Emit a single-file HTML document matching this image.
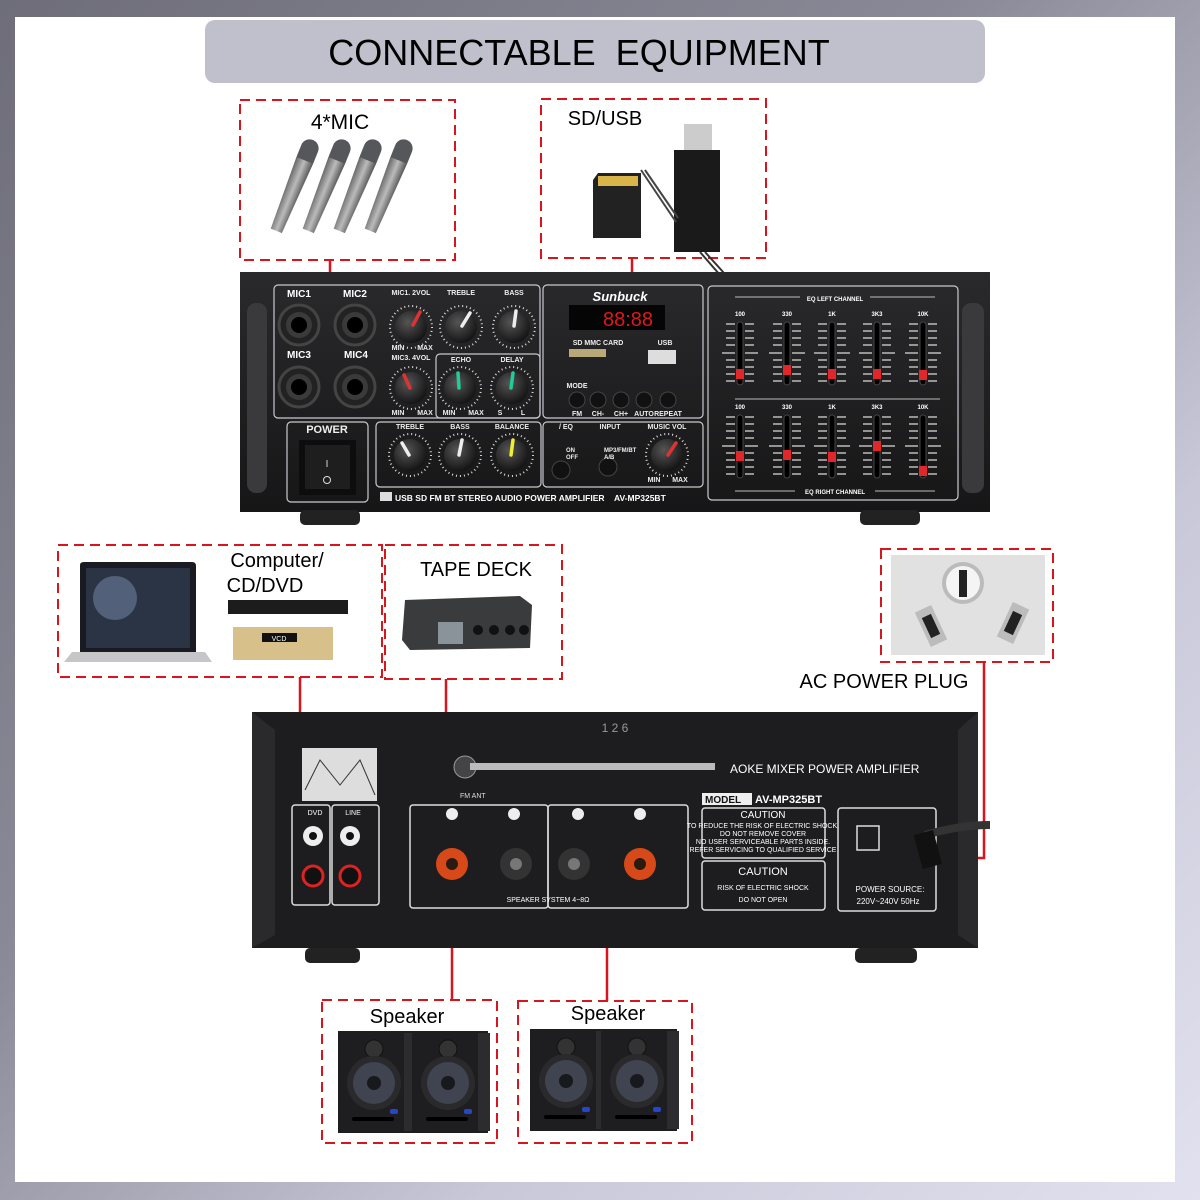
<!DOCTYPE html>
<html><head><meta charset="utf-8"><style>
html,body{margin:0;padding:0;width:1200px;height:1200px;overflow:hidden}
body{background:linear-gradient(135deg,#6e6d79 0%,#8a8997 40%,#c9c8d8 70%,#e2e1ef 100%)}
svg{position:absolute;left:0;top:0}
text{font-family:"Liberation Sans",sans-serif}
</style></head><body>
<svg width="1200" height="1200" viewBox="0 0 1200 1200" xmlns="http://www.w3.org/2000/svg">
<defs>
<radialGradient id="kg" cx="40%" cy="35%" r="70%"><stop offset="0" stop-color="#555"/><stop offset="1" stop-color="#111"/></radialGradient>
<linearGradient id="panel" x1="0" y1="0" x2="0" y2="1"><stop offset="0" stop-color="#2a2a2c"/><stop offset="1" stop-color="#161617"/></linearGradient>
<linearGradient id="micg" x1="0" y1="0" x2="1" y2="0"><stop offset="0" stop-color="#666"/><stop offset=".5" stop-color="#bbb"/><stop offset="1" stop-color="#555"/></linearGradient>
<g id="knob"><circle r="21" fill="none" stroke="#ddd" stroke-width="2" stroke-dasharray="1 3"/><circle r="16" fill="url(#kg)"/></g>
<g id="jack"><circle r="20" fill="#222" stroke="#444" stroke-width="3"/><circle r="13" fill="#3a3a3a"/><circle r="8" fill="#000"/></g>
<g id="slider"><rect x="-3" y="0" width="6" height="63" rx="3" fill="#000" stroke="#444"/>
<path d="M-14 2h9M5 2h9M-14 9h9M5 9h9M-14 16h9M5 16h9M-14 23h9M5 23h9M-18 31h13M5 31h13M-14 38h9M5 38h9M-14 45h9M5 45h9M-14 52h9M5 52h9M-14 59h9M5 59h9" stroke="#bbb" stroke-width="1.5"/></g>
<g id="spk"><rect x="0" y="0" width="76" height="102" fill="#1e1e20"/><rect x="66" y="2" width="12" height="98" fill="#2c2c2e"/>
<circle cx="36" cy="18" r="9" fill="#333" stroke="#111"/><circle cx="36" cy="52" r="27" fill="#2a2a2c"/><circle cx="36" cy="52" r="21" fill="#3f4450"/><circle cx="36" cy="52" r="7" fill="#18191c"/>
<rect x="14" y="86" width="42" height="4" rx="2" fill="#000"/><rect x="52" y="78" width="8" height="5" rx="2" fill="#2446c8"/></g>
<g id="mic"><rect x="-9" y="0" width="18" height="30" rx="9" fill="#55575b"/><path d="M-9 22 L-6 98 L6 98 L9 22Z" fill="url(#micg)"/></g>
</defs>
<!-- white area -->
<rect x="15" y="17" width="1160" height="1165" fill="#fff"/>
<!-- title -->
<rect x="205" y="20" width="780" height="63" rx="10" fill="#c0bfcc"/>
<text x="579" y="65" font-size="36" text-anchor="middle" fill="#000">CONNECTABLE&#160;&#160;EQUIPMENT</text>

<!-- connector lines -->
<g stroke="#d8141c" stroke-width="2.5" fill="none">
<path d="M330 260 V330"/><path d="M632 258 V352"/>
<path d="M300 677 V835"/><path d="M446 679 V825 H370"/>
<path d="M984 662 V858 H935"/>
<path d="M452 880 V1000"/><path d="M607 868 V1001"/>
</g>

<!-- dashed boxes -->
<g stroke="#d8141c" stroke-width="2" fill="none" stroke-dasharray="10 6">
<rect x="240" y="100" width="215" height="160"/>
<rect x="541" y="99" width="225" height="159"/>
<rect x="58" y="545" width="324" height="132"/>
<rect x="385" y="545" width="177" height="134"/>
<rect x="881" y="549" width="172" height="113"/>
<rect x="322" y="1000" width="175" height="143"/>
<rect x="518" y="1001" width="174" height="142"/>
</g>

<!-- mics -->
<text x="340" y="129" font-size="21" text-anchor="middle">4*MIC</text>
<use href="#mic" transform="translate(313,140) rotate(22)"/>
<use href="#mic" transform="translate(345,140) rotate(22)"/>
<use href="#mic" transform="translate(376,140) rotate(22)"/>
<use href="#mic" transform="translate(407,140) rotate(22)"/>

<!-- SD/USB -->
<text x="605" y="125" font-size="20" text-anchor="middle">SD/USB</text>
<path d="M598 173 H641 V238 H593 V180Z" fill="#222"/>
<rect x="598" y="176" width="40" height="10" fill="#d9b44a"/>
<rect x="684" y="124" width="28" height="27" fill="#ccc"/>
<rect x="674" y="150" width="46" height="102" fill="#1a1a1a"/>
<path d="M641 170 L676 222 M645 170 L678 218" stroke="#444" stroke-width="2"/>
<path d="M700 252 L720 275 M705 252 L724 273" stroke="#333" stroke-width="2"/>

<!-- FRONT AMP -->
<rect x="240" y="272" width="750" height="240" fill="url(#panel)"/>
<rect x="300" y="510" width="60" height="15" rx="5" fill="#222"/><rect x="860" y="510" width="60" height="15" rx="5" fill="#222"/>
<rect x="247" y="303" width="20" height="190" rx="9" fill="#3a3a3c"/>
<rect x="962" y="303" width="22" height="190" rx="9" fill="#3a3a3c"/>
<g fill="none" stroke="#c8c8d0" stroke-width="1.2">
<rect x="274" y="285" width="266" height="133" rx="4"/>
<rect x="436" y="354" width="104" height="64" rx="4"/>
<rect x="543" y="285" width="160" height="133" rx="4"/>
<rect x="287" y="422" width="81" height="80" rx="4"/>
<rect x="376" y="422" width="165" height="65" rx="4"/>
<rect x="543" y="422" width="160" height="65" rx="4"/>
<rect x="708" y="286" width="250" height="214" rx="4"/>
</g>
<g font-size="10" font-weight="bold" fill="#fff">
<text x="287" y="297">MIC1</text><text x="343" y="297">MIC2</text><text x="287" y="358">MIC3</text><text x="344" y="358">MIC4</text>
</g>
<use href="#jack" x="299" y="325"/><use href="#jack" x="355" y="325"/><use href="#jack" x="299" y="387"/><use href="#jack" x="355" y="387"/>
<g font-size="7" font-weight="bold" fill="#eee" text-anchor="middle">
<text x="411" y="295">MIC1. 2VOL</text><text x="461" y="295">TREBLE</text><text x="514" y="295">BASS</text>
<text x="411" y="360">MIC3. 4VOL</text><text x="461" y="362">ECHO</text><text x="512" y="362">DELAY</text>
<text x="410" y="429">TREBLE</text><text x="460" y="429">BASS</text><text x="512" y="429">BALANCE</text>
<text x="667" y="429">MUSIC VOL</text><text x="610" y="429">INPUT</text><text x="566" y="429">/ EQ</text>
<text x="398" y="350">MIN</text><text x="425" y="350">MAX</text>
<text x="398" y="415">MIN</text><text x="425" y="415">MAX</text>
<text x="449" y="415">MIN</text><text x="476" y="415">MAX</text>
<text x="500" y="415">S</text><text x="523" y="415">L</text>
<text x="654" y="482">MIN</text><text x="680" y="482">MAX</text>
<text x="598" y="345">SD MMC CARD</text><text x="665" y="345">USB</text>
<text x="577" y="388">MODE</text><text x="577" y="416">FM</text><text x="598" y="416">CH-</text><text x="621" y="416">CH+</text><text x="644" y="416">AUTO</text><text x="668" y="416">REPEAT</text>
<text x="327" y="433" font-size="11">POWER</text>
</g>
<use href="#knob" x="411" y="327"/><use href="#knob" x="461" y="327"/><use href="#knob" x="514" y="327"/>
<use href="#knob" x="411" y="388"/><use href="#knob" x="460" y="388"/><use href="#knob" x="512" y="388"/>
<use href="#knob" x="410" y="455"/><use href="#knob" x="460" y="455"/><use href="#knob" x="512" y="455"/>
<use href="#knob" x="667" y="455"/>
<g stroke-width="3.5" stroke-linecap="round">
<path d="M413 325 L420 312" stroke="#d33"/><path d="M462 326 L470 313" stroke="#eee"/><path d="M514 326 L516 311" stroke="#eee"/>
<path d="M410 388 L404 375" stroke="#d33"/><path d="M459 388 L458 373" stroke="#2c9"/><path d="M511 388 L513 373" stroke="#2c9"/>
<path d="M409 455 L402 443" stroke="#eee"/><path d="M459 455 L462 440" stroke="#eee"/><path d="M511 455 L513 440" stroke="#ee3"/>
<path d="M668 455 L676 443" stroke="#d33"/>
</g>
<rect x="299" y="440" width="57" height="55" fill="#0d0d0d"/><rect x="305" y="445" width="45" height="44" fill="#1e1e1e"/>
<text x="327" y="467" font-size="10" fill="#ddd" text-anchor="middle">I</text><circle cx="327" cy="480" r="3.5" fill="none" stroke="#ddd"/>
<text x="620" y="301" font-size="13" font-style="italic" font-weight="bold" fill="#fff" font-family="Liberation Serif" text-anchor="middle">Sunbuck</text>
<rect x="569" y="305" width="96" height="25" fill="#050505"/>
<text x="628" y="326" font-size="20" fill="#e01818" font-family="Liberation Mono" text-anchor="middle">88:88</text>
<rect x="569" y="349" width="37" height="8" fill="#b9a878"/><rect x="648" y="350" width="28" height="14" fill="#ddd"/>
<g fill="#111" stroke="#444"><circle cx="577" cy="400" r="8"/><circle cx="598" cy="400" r="8"/><circle cx="621" cy="400" r="8"/><circle cx="644" cy="400" r="8"/><circle cx="668" cy="400" r="8"/><circle cx="561" cy="470" r="9"/><circle cx="608" cy="467" r="9"/></g>
<g font-size="6" fill="#eee" font-weight="bold"><text x="566" y="452">ON</text><text x="566" y="459">OFF</text><text x="604" y="452">MP3/FM/BT</text><text x="604" y="459">A/B</text></g>
<rect x="380" y="492" width="12" height="9" fill="#ddd"/>
<text x="395" y="501" font-size="8.5" font-weight="bold" fill="#fff">USB SD FM BT STEREO AUDIO POWER AMPLIFIER&#160;&#160;&#160;&#160;AV-MP325BT</text>
<!-- EQ -->
<g font-size="6" font-weight="bold" fill="#fff" text-anchor="middle">
<text x="835" y="301">EQ LEFT CHANNEL</text><text x="835" y="494">EQ RIGHT CHANNEL</text>
<text x="740" y="316">100</text><text x="787" y="316">330</text><text x="832" y="316">1K</text><text x="877" y="316">3K3</text><text x="923" y="316">10K</text>
<text x="740" y="409">100</text><text x="787" y="409">330</text><text x="832" y="409">1K</text><text x="877" y="409">3K3</text><text x="923" y="409">10K</text>
</g>
<path d="M735 297 H800 M870 297 H935 M735 399 H940 M735 491 H795 M875 491 H935" stroke="#bbb"/>
<use href="#slider" x="740" y="322"/><use href="#slider" x="787" y="322"/><use href="#slider" x="832" y="322"/><use href="#slider" x="877" y="322"/><use href="#slider" x="923" y="322"/>
<use href="#slider" x="740" y="415"/><use href="#slider" x="787" y="415"/><use href="#slider" x="832" y="415"/><use href="#slider" x="877" y="415"/><use href="#slider" x="923" y="415"/>
<g fill="#e0282a"><rect x="736" y="369" width="8" height="10"/><rect x="783" y="365" width="8" height="10"/><rect x="828" y="369" width="8" height="10"/><rect x="873" y="369" width="8" height="10"/><rect x="919" y="370" width="8" height="10"/>
<rect x="736" y="451" width="8" height="10"/><rect x="783" y="450" width="8" height="10"/><rect x="828" y="452" width="8" height="10"/><rect x="873" y="441" width="8" height="10"/><rect x="919" y="466" width="8" height="10"/></g>

<!-- computer -->
<path d="M80 565 Q80 562 84 562 H192 Q196 562 196 566 V652 H80Z" fill="#1a1a22"/>
<rect x="86" y="568" width="104" height="80" fill="#2b3444"/><circle cx="115" cy="598" r="22" fill="#52607a"/>
<path d="M72 652 H205 L212 662 H64Z" fill="#c6c6c8"/>
<text x="277" y="567" font-size="20" text-anchor="middle">Computer/</text>
<text x="265" y="592" font-size="20" text-anchor="middle">CD/DVD</text>
<rect x="228" y="600" width="120" height="14" fill="#1c1c1c"/>
<rect x="233" y="627" width="100" height="33" fill="#d8c08a"/><rect x="262" y="633" width="35" height="9" fill="#111"/>
<text x="279" y="641" font-size="7" fill="#fff" text-anchor="middle">VCD</text>
<!-- tape deck -->
<text x="476" y="576" font-size="20" text-anchor="middle">TAPE DECK</text>
<path d="M405 600 L520 596 L532 605 L530 648 L410 650 L402 640Z" fill="#3a3b3d"/>
<rect x="438" y="622" width="25" height="22" fill="#8a939a"/>
<g fill="#111"><circle cx="478" cy="630" r="5"/><circle cx="494" cy="630" r="5"/><circle cx="510" cy="630" r="5"/><circle cx="524" cy="630" r="5"/></g>
<!-- plug -->
<rect x="891" y="555" width="154" height="100" fill="#e1e1e1"/>
<circle cx="963" cy="583" r="21" fill="#bbb"/><circle cx="963" cy="583" r="17" fill="#f4f4f4"/><rect x="959" y="570" width="8" height="27" fill="#222"/>
<rect x="922" y="607" width="18" height="38" fill="#bcbcbc" transform="rotate(-25 931 626)"/><rect x="926" y="615" width="10" height="22" fill="#222" transform="rotate(-25 931 626)"/>
<rect x="1004" y="604" width="18" height="38" fill="#bcbcbc" transform="rotate(25 1013 623)"/><rect x="1008" y="612" width="10" height="22" fill="#222" transform="rotate(25 1013 623)"/>
<text x="884" y="688" font-size="20" text-anchor="middle">AC POWER PLUG</text>

<!-- REAR AMP -->
<rect x="252" y="712" width="726" height="236" fill="#1d1d1f"/>
<path d="M252 712 L275 730 V935 L252 948Z" fill="#2a2a2c"/><path d="M978 712 L958 730 V935 L978 948Z" fill="#2a2a2c"/>
<rect x="305" y="948" width="55" height="15" rx="5" fill="#222"/><rect x="855" y="948" width="62" height="15" rx="5" fill="#222"/>
<rect x="302" y="748" width="75" height="53" fill="#ddd"/><path d="M305 790 L320 760 L340 785 L360 760 L375 795" stroke="#333" fill="none"/>
<text x="615" y="732" font-size="12" fill="#999" text-anchor="middle">1 2 6</text>
<circle cx="465" cy="767" r="11" fill="#444" stroke="#999"/><rect x="470" y="763" width="245" height="7" fill="#bbb"/>
<text x="460" y="798" font-size="7" fill="#ddd">FM ANT</text>
<text x="730" y="773" font-size="12" fill="#fff">AOKE MIXER POWER AMPLIFIER</text>
<rect x="702" y="793" width="50" height="12" fill="#eee"/><text x="705" y="803" font-size="10" font-weight="bold" fill="#111">MODEL</text>
<text x="755" y="803" font-size="11" font-weight="bold" fill="#fff">AV-MP325BT</text>
<g fill="none" stroke="#ddd" stroke-width="1.5">
<rect x="702" y="808" width="123" height="50" rx="3"/><rect x="702" y="861" width="123" height="49" rx="3"/>
<rect x="838" y="808" width="98" height="103" rx="3"/><rect x="857" y="826" width="22" height="24"/>
<rect x="292" y="805" width="38" height="100" rx="3"/><rect x="332" y="805" width="47" height="100" rx="3"/>
<rect x="410" y="805" width="138" height="103" rx="3"/><rect x="548" y="805" width="140" height="103" rx="3"/>
</g>
<g font-size="7" fill="#fff" text-anchor="middle">
<text x="763" y="818" font-size="10">CAUTION</text><text x="763" y="828">TO REDUCE THE RISK OF ELECTRIC SHOCK,</text><text x="763" y="836">DO NOT REMOVE COVER</text><text x="763" y="844">NO USER SERVICEABLE PARTS INSIDE.</text><text x="763" y="852">REFER SERVICING TO QUALIFIED SERVICE</text>
<text x="763" y="875" font-size="11">CAUTION</text><text x="763" y="890">RISK OF ELECTRIC SHOCK</text><text x="763" y="902">DO NOT OPEN</text>
<text x="890" y="892" font-size="8">POWER SOURCE:</text><text x="888" y="904" font-size="8">220V~240V 50Hz</text>
<text x="315" y="815">DVD</text><text x="353" y="815">LINE</text>
<text x="548" y="902">SPEAKER SYSTEM 4~8Ω</text>
</g>
<g><circle cx="313" cy="836" r="10" fill="#eee"/><circle cx="313" cy="836" r="4" fill="#111"/><circle cx="350" cy="836" r="10" fill="#eee"/><circle cx="350" cy="836" r="4" fill="#111"/>
<circle cx="313" cy="876" r="10" fill="#111" stroke="#d22" stroke-width="3"/><circle cx="350" cy="876" r="10" fill="#111" stroke="#d22" stroke-width="3"/></g>
<g fill="#eee"><circle cx="452" cy="814" r="6"/><circle cx="514" cy="814" r="6"/><circle cx="578" cy="814" r="6"/><circle cx="640" cy="814" r="6"/></g>
<circle cx="452" cy="864" r="16" fill="#d8491a"/><circle cx="452" cy="864" r="6" fill="#2a1a10"/>
<circle cx="516" cy="864" r="16" fill="#333"/><circle cx="516" cy="864" r="6" fill="#777"/>
<circle cx="574" cy="864" r="16" fill="#333"/><circle cx="574" cy="864" r="6" fill="#777"/>
<circle cx="640" cy="864" r="16" fill="#d8491a"/><circle cx="640" cy="864" r="6" fill="#2a1a10"/>
<path d="M925 835 Q960 825 990 825" stroke="#333" stroke-width="8" fill="none"/>
<rect x="918" y="832" width="20" height="35" fill="#111" transform="rotate(-15 928 850)"/>

<!-- speakers -->
<text x="407" y="1023" font-size="20" text-anchor="middle">Speaker</text>
<text x="608" y="1020" font-size="20" text-anchor="middle">Speaker</text>
<use href="#spk" x="338" y="1031"/><use href="#spk" x="412" y="1031"/>
<use href="#spk" x="530" y="1029"/><use href="#spk" x="601" y="1029"/>
</svg>
</body></html>
